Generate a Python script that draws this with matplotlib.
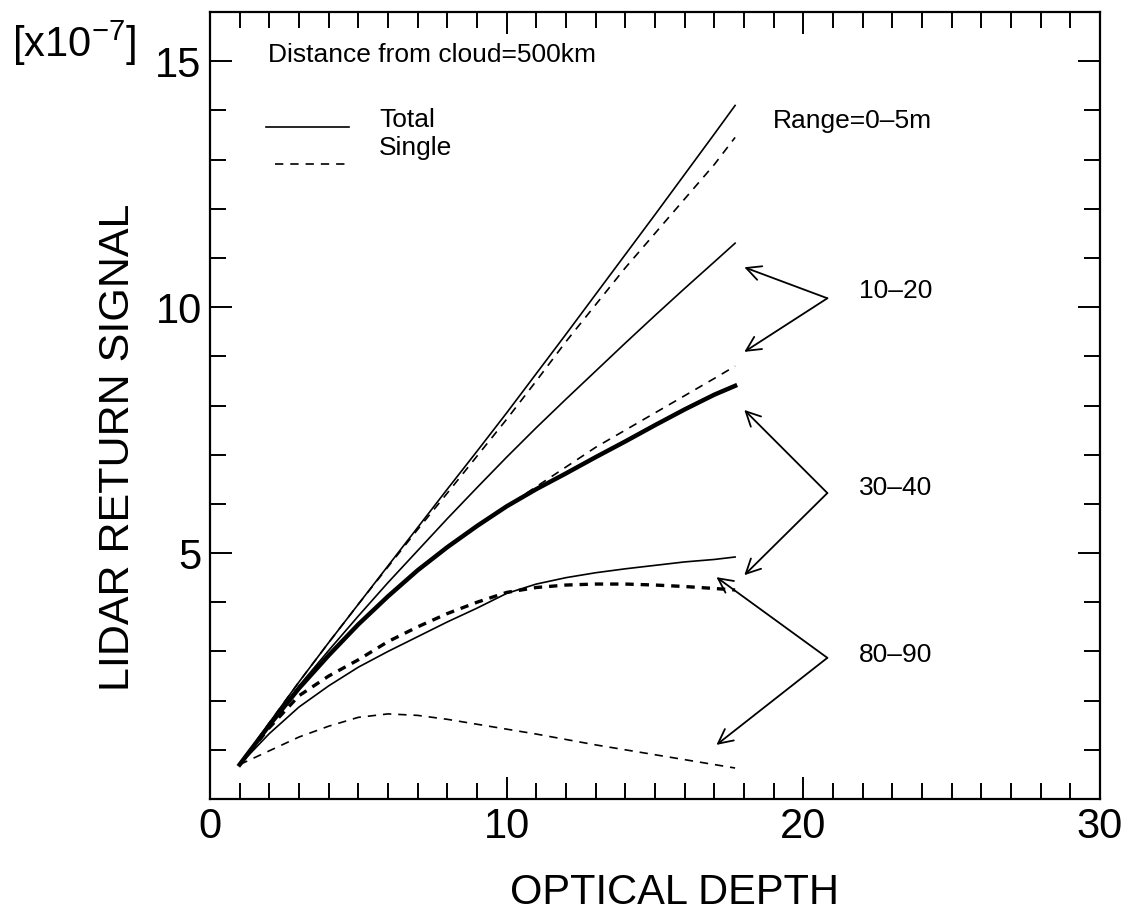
import matplotlib
matplotlib.use("Agg")
import matplotlib.pyplot as plt

plt.rcParams['font.family'] = ['Liberation Sans', 'DejaVu Sans']
plt.rcParams['mathtext.default'] = 'regular'
plt.rcParams['lines.scale_dashes'] = False

# optical depth grid
depth = [1, 2, 3, 4, 5, 6, 7, 8, 9, 10, 11, 12, 13, 14, 15, 16, 17, 17.7]

# lidar return signal [x1e-7]
r0_5_total = [0.7, 1.55, 2.38, 3.18, 3.96, 4.74, 5.52, 6.3, 7.07, 7.85, 8.65, 9.45, 10.26, 11.07, 11.88, 12.7, 13.52, 14.1]
r0_5_single = [0.7, 1.55, 2.38, 3.18, 3.96, 4.72, 5.48, 6.22, 6.97, 7.72, 8.5, 9.3, 10.05, 10.8, 11.5, 12.2, 12.9, 13.45]
r10_20_total = [0.7, 1.52, 2.3, 3.02, 3.72, 4.4, 5.05, 5.7, 6.33, 6.95, 7.55, 8.13, 8.7, 9.27, 9.83, 10.38, 10.92, 11.3]
r10_20_single = [0.7, 1.5, 2.25, 2.92, 3.55, 4.12, 4.65, 5.12, 5.55, 5.95, 6.35, 6.75, 7.15, 7.5, 7.85, 8.2, 8.55, 8.8]
r30_40_total = [0.7, 1.5, 2.25, 2.92, 3.55, 4.12, 4.65, 5.12, 5.55, 5.95, 6.3, 6.62, 6.95, 7.27, 7.6, 7.92, 8.22, 8.4]
r30_40_single = [0.7, 1.45, 2.1, 2.5, 2.83, 3.2, 3.5, 3.77, 4.0, 4.2, 4.3, 4.35, 4.37, 4.37, 4.35, 4.32, 4.28, 4.25]
r80_90_total = [0.7, 1.33, 1.87, 2.3, 2.68, 3.0, 3.3, 3.6, 3.88, 4.18, 4.37, 4.5, 4.6, 4.68, 4.75, 4.82, 4.87, 4.92]
r80_90_single = [0.7, 0.98, 1.26, 1.48, 1.66, 1.73, 1.7, 1.62, 1.52, 1.42, 1.32, 1.21, 1.1, 1.0, 0.9, 0.8, 0.7, 0.63]

W, H = 1146, 919
fig = plt.figure(figsize=(W / 100, H / 100), dpi=100)
ax = fig.add_axes([210 / W, 1 - 799 / H, 890 / W, 787 / H])

dash = (0, (6, 5))
ax.plot(depth, r0_5_total, color='k', lw=1.2)
ax.plot(depth, r0_5_single, color='k', lw=1.2, ls=dash)
ax.plot(depth, r10_20_total, color='k', lw=1.2)
ax.plot(depth, r10_20_single, color='k', lw=1.2, ls=dash)
ax.plot(depth, r30_40_total, color='k', lw=3.2)
ax.plot(depth, r30_40_single, color='k', lw=2.4, ls=(0, (6, 5)))
ax.plot(depth, r80_90_total, color='k', lw=1.2)
ax.plot(depth, r80_90_single, color='k', lw=1.2, ls=dash)

ax.set_xlim(0, 30)
ax.set_ylim(0, 16)
ax.set_xticks([0, 10, 20, 30])
ax.set_xticks(range(0, 31), minor=True)
ax.set_yticks([5, 10, 15])
ax.set_yticks(range(0, 17), minor=True)
ax.tick_params(which='both', direction='in', top=True, right=True, width=1.4,
               labelsize=30, pad=6)
ax.tick_params(which='major', length=16)
ax.tick_params(which='minor', length=11.5)
for s in ax.spines.values():
    s.set_linewidth(1.6)

fig.text(12 / W, 1 - 57 / H, r'[x10$^{-7}$]', fontsize=30, va='baseline')
fig.text(674 / W, 1 - 904 / H, 'OPTICAL DEPTH', fontsize=30, ha='center', va='baseline')
fig.text(118 / W, 1 - 447 / H, 'LIDAR RETURN SIGNAL', fontsize=31, rotation=90,
         ha='center', va='center')

ax.text(1.95, 14.98, 'Distance from cloud=500km', fontsize=19, va='baseline')
ax.plot([1.9, 4.7], [13.66, 13.66], color='k', lw=1.2)
ax.plot([2.2, 4.7], [12.9, 12.9], color='k', lw=1.2, ls=dash)
ax.text(5.7, 13.66, 'Total', fontsize=19, va='baseline')
ax.text(5.7, 13.1, 'Single', fontsize=19, va='baseline')

ax.text(24.35, 13.64, 'Range=0\u20135m', fontsize=19, ha='right', va='baseline')
ax.text(24.35, 10.18, '10\u201320', fontsize=19, ha='right', va='baseline')
ax.text(24.35, 6.18, '30\u201340', fontsize=19, ha='right', va='baseline')
ax.text(24.35, 2.78, '80\u201390', fontsize=19, ha='right', va='baseline')

arrows = [((20.81, 10.18), (18.01, 10.81)), ((20.81, 10.18), (18.01, 9.09)),
          ((20.81, 6.22), (18.01, 7.91)), ((20.81, 6.22), (18.01, 4.55)),
          ((20.81, 2.87), (17.07, 4.51)), ((20.81, 2.87), (17.07, 1.10))]
for start, end in arrows:
    ax.annotate('', xy=end, xytext=start,
                arrowprops=dict(arrowstyle='->', lw=1.3, color='k',
                                mutation_scale=26, shrinkA=0, shrinkB=0))

fig.savefig('out.png', dpi=100)
